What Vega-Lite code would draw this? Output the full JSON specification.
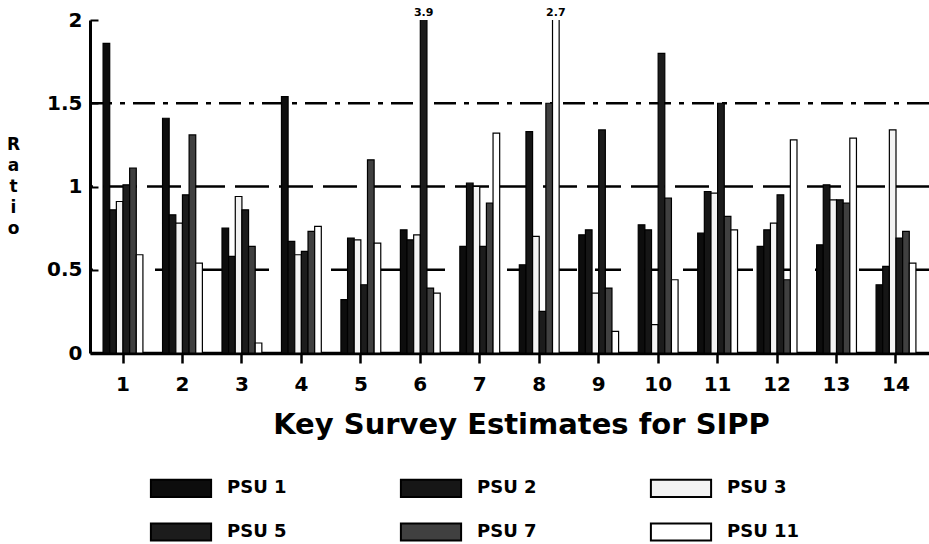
{
  "$schema": "https://vega.github.io/schema/vega-lite/v6.json",
  "width": 839,
  "height": 333,
  "autosize": {"type": "none"},
  "padding": {"left": 90, "top": 20, "right": 0, "bottom": 191},
  "background": "white",
  "config": {"view": {"stroke": null}, "font": "DejaVu Sans"},
  "datasets": {
    "bars": [
      {"estimate": 1, "psu": "PSU 1", "value": 1.86}, {"estimate": 1, "psu": "PSU 2", "value": 0.86}, {"estimate": 1, "psu": "PSU 3", "value": 0.91}, {"estimate": 1, "psu": "PSU 5", "value": 1.01}, {"estimate": 1, "psu": "PSU 7", "value": 1.11}, {"estimate": 1, "psu": "PSU 11", "value": 0.59},
      {"estimate": 2, "psu": "PSU 1", "value": 1.41}, {"estimate": 2, "psu": "PSU 2", "value": 0.83}, {"estimate": 2, "psu": "PSU 3", "value": 0.78}, {"estimate": 2, "psu": "PSU 5", "value": 0.95}, {"estimate": 2, "psu": "PSU 7", "value": 1.31}, {"estimate": 2, "psu": "PSU 11", "value": 0.54},
      {"estimate": 3, "psu": "PSU 1", "value": 0.75}, {"estimate": 3, "psu": "PSU 2", "value": 0.58}, {"estimate": 3, "psu": "PSU 3", "value": 0.94}, {"estimate": 3, "psu": "PSU 5", "value": 0.86}, {"estimate": 3, "psu": "PSU 7", "value": 0.64}, {"estimate": 3, "psu": "PSU 11", "value": 0.06},
      {"estimate": 4, "psu": "PSU 1", "value": 1.54}, {"estimate": 4, "psu": "PSU 2", "value": 0.67}, {"estimate": 4, "psu": "PSU 3", "value": 0.59}, {"estimate": 4, "psu": "PSU 5", "value": 0.61}, {"estimate": 4, "psu": "PSU 7", "value": 0.73}, {"estimate": 4, "psu": "PSU 11", "value": 0.76},
      {"estimate": 5, "psu": "PSU 1", "value": 0.32}, {"estimate": 5, "psu": "PSU 2", "value": 0.69}, {"estimate": 5, "psu": "PSU 3", "value": 0.68}, {"estimate": 5, "psu": "PSU 5", "value": 0.41}, {"estimate": 5, "psu": "PSU 7", "value": 1.16}, {"estimate": 5, "psu": "PSU 11", "value": 0.66},
      {"estimate": 6, "psu": "PSU 1", "value": 0.74}, {"estimate": 6, "psu": "PSU 2", "value": 0.68}, {"estimate": 6, "psu": "PSU 3", "value": 0.71}, {"estimate": 6, "psu": "PSU 5", "value": 3.9}, {"estimate": 6, "psu": "PSU 7", "value": 0.39}, {"estimate": 6, "psu": "PSU 11", "value": 0.36},
      {"estimate": 7, "psu": "PSU 1", "value": 0.64}, {"estimate": 7, "psu": "PSU 2", "value": 1.02}, {"estimate": 7, "psu": "PSU 3", "value": 1.0}, {"estimate": 7, "psu": "PSU 5", "value": 0.64}, {"estimate": 7, "psu": "PSU 7", "value": 0.9}, {"estimate": 7, "psu": "PSU 11", "value": 1.32},
      {"estimate": 8, "psu": "PSU 1", "value": 0.53}, {"estimate": 8, "psu": "PSU 2", "value": 1.33}, {"estimate": 8, "psu": "PSU 3", "value": 0.7}, {"estimate": 8, "psu": "PSU 5", "value": 0.25}, {"estimate": 8, "psu": "PSU 7", "value": 1.5}, {"estimate": 8, "psu": "PSU 11", "value": 2.7},
      {"estimate": 9, "psu": "PSU 1", "value": 0.71}, {"estimate": 9, "psu": "PSU 2", "value": 0.74}, {"estimate": 9, "psu": "PSU 3", "value": 0.36}, {"estimate": 9, "psu": "PSU 5", "value": 1.34}, {"estimate": 9, "psu": "PSU 7", "value": 0.39}, {"estimate": 9, "psu": "PSU 11", "value": 0.13},
      {"estimate": 10, "psu": "PSU 1", "value": 0.77}, {"estimate": 10, "psu": "PSU 2", "value": 0.74}, {"estimate": 10, "psu": "PSU 3", "value": 0.17}, {"estimate": 10, "psu": "PSU 5", "value": 1.8}, {"estimate": 10, "psu": "PSU 7", "value": 0.93}, {"estimate": 10, "psu": "PSU 11", "value": 0.44},
      {"estimate": 11, "psu": "PSU 1", "value": 0.72}, {"estimate": 11, "psu": "PSU 2", "value": 0.97}, {"estimate": 11, "psu": "PSU 3", "value": 0.96}, {"estimate": 11, "psu": "PSU 5", "value": 1.5}, {"estimate": 11, "psu": "PSU 7", "value": 0.82}, {"estimate": 11, "psu": "PSU 11", "value": 0.74},
      {"estimate": 12, "psu": "PSU 1", "value": 0.64}, {"estimate": 12, "psu": "PSU 2", "value": 0.74}, {"estimate": 12, "psu": "PSU 3", "value": 0.78}, {"estimate": 12, "psu": "PSU 5", "value": 0.95}, {"estimate": 12, "psu": "PSU 7", "value": 0.44}, {"estimate": 12, "psu": "PSU 11", "value": 1.28},
      {"estimate": 13, "psu": "PSU 1", "value": 0.65}, {"estimate": 13, "psu": "PSU 2", "value": 1.01}, {"estimate": 13, "psu": "PSU 3", "value": 0.92}, {"estimate": 13, "psu": "PSU 5", "value": 0.92}, {"estimate": 13, "psu": "PSU 7", "value": 0.9}, {"estimate": 13, "psu": "PSU 11", "value": 1.29},
      {"estimate": 14, "psu": "PSU 1", "value": 0.41}, {"estimate": 14, "psu": "PSU 2", "value": 0.52}, {"estimate": 14, "psu": "PSU 3", "value": 1.34}, {"estimate": 14, "psu": "PSU 5", "value": 0.69}, {"estimate": 14, "psu": "PSU 7", "value": 0.73}, {"estimate": 14, "psu": "PSU 11", "value": 0.54}
    ],
    "refs": [
      {"level": "0.5", "value": 0.5},
      {"level": "1", "value": 1},
      {"level": "1.5", "value": 1.5}
    ]
  },
  "encoding": {
    "y": {
      "field": "value",
      "type": "quantitative",
      "scale": {"domain": [0, 2], "nice": false, "zero": true},
      "axis": {
        "title": ["R", "a", "t", "i", "o"],
        "values": [0, 0.5, 1, 1.5, 2],
        "format": "~g",
        "labelFont": "DejaVu Sans",
        "labelFontSize": 20,
        "labelFontWeight": "bold",
        "labelColor": "black",
        "labelPadding": 16,
        "tickSize": -8,
        "tickWidth": 2,
        "tickColor": "black",
        "domainWidth": 3,
        "domainColor": "black",
        "grid": false,
        "titleAngle": 0,
        "titleX": -77,
        "titleY": 116,
        "titleAlign": "center",
        "titleBaseline": "top",
        "titleLineHeight": 21,
        "titleFont": "DejaVu Sans",
        "titleFontSize": 17,
        "titleFontWeight": "bold",
        "titleColor": "black"
      }
    }
  },
  "layer": [
    {
      "data": {"name": "refs"},
      "mark": {"type": "rule", "strokeWidth": 2.5, "color": "black"},
      "encoding": {
        "strokeDash": {
          "field": "level",
          "type": "nominal",
          "scale": {"domain": ["0.5", "1", "1.5"], "range": [[26, 18], [34, 10], [22, 8, 5, 8]]},
          "legend": null
        }
      }
    },
    {
      "data": {"name": "bars"},
      "mark": {"type": "bar", "clip": true, "stroke": "black", "strokeWidth": 1.2},
      "encoding": {
        "x": {
          "field": "estimate",
          "type": "ordinal",
          "scale": {"paddingInner": 0.33, "paddingOuter": 0.22},
          "axis": {
            "title": "Key Survey Estimates for SIPP",
            "labelAngle": 0,
            "labelFont": "DejaVu Sans",
            "labelFontSize": 20,
            "labelFontWeight": "bold",
            "labelColor": "black",
            "labelPadding": 11,
            "tickSize": 10,
            "tickWidth": 2.5,
            "tickColor": "black",
            "domainColor": "black",
            "domainWidth": 3.5,
            "grid": false,
            "titleFont": "DejaVu Sans",
            "titleFontSize": 29,
            "titleFontWeight": "bold",
            "titleColor": "black",
            "titleX": 431,
            "titleY": 80,
            "titleAlign": "center",
            "titleBaseline": "alphabetic"
          }
        },
        "xOffset": {
          "field": "psu",
          "type": "nominal",
          "scale": {"domain": ["PSU 1", "PSU 2", "PSU 3", "PSU 5", "PSU 7", "PSU 11"], "paddingInner": 0}
        },
        "fill": {
          "field": "psu",
          "type": "nominal",
          "scale": {
            "domain": ["PSU 1", "PSU 2", "PSU 3", "PSU 5", "PSU 7", "PSU 11"],
            "range": ["#0d0d0d", "#161616", "#f3f3f3", "#1c1c1c", "#404040", "#ffffff"]
          },
          "legend": {
            "orient": "none",
            "legendX": 68.5,
            "legendY": 445.5,
            "direction": "horizontal",
            "columns": 3,
            "title": null,
            "symbolType": "M-1.4,-0.4H1.4V0.4H-1.4Z",
            "symbolSize": 1849,
            "symbolStrokeColor": "black",
            "symbolStrokeWidth": 2,
            "symbolOpacity": 1,
            "labelFont": "DejaVu Sans",
            "labelFontSize": 18,
            "labelFontWeight": "bold",
            "labelColor": "black",
            "labelOffset": 23.5,
            "columnPadding": 109,
            "rowPadding": 8,
            "padding": 0,
            "labelLimit": 300
          }
        }
      }
    },
    {
      "data": {"name": "bars"},
      "transform": [{"filter": "datum.value > 2"}],
      "mark": {"type": "text", "dy": -4, "baseline": "alphabetic", "fontWeight": "bold", "fontSize": 11, "font": "DejaVu Sans", "color": "black"},
      "encoding": {
        "x": {"field": "estimate", "type": "ordinal"},
        "xOffset": {"field": "psu", "type": "nominal"},
        "y": {"datum": 2},
        "text": {"field": "value", "type": "quantitative", "format": ".1f"}
      }
    },
    {
      "mark": {"type": "rule", "strokeWidth": 3, "color": "black"},
      "encoding": {"y": {"datum": 2}}
    }
  ]
}
